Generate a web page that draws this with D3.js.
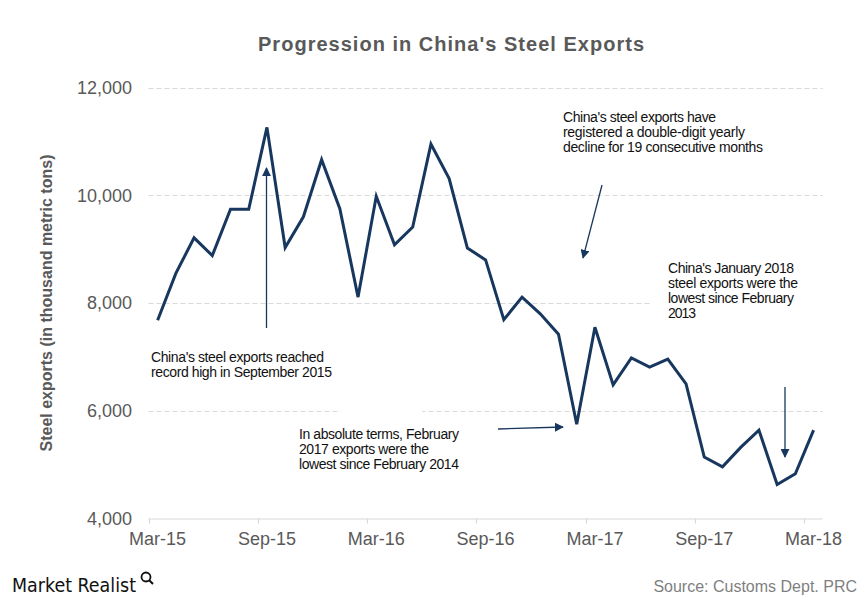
<!DOCTYPE html>
<html>
<head>
<meta charset="utf-8">
<script src="https://cdn.jsdelivr.net/npm/d3@7"></script>
<style>
  html, body { margin: 0; padding: 0; background: #fff; }
  svg { display: block; font-family: "Liberation Sans", Arial, sans-serif; }
</style>
</head>
<body>
<svg id="chart" width="868" height="601"></svg>
<script>
// ---- data ----
const months = ["Mar-15","Apr-15","May-15","Jun-15","Jul-15","Aug-15","Sep-15","Oct-15","Nov-15","Dec-15",
  "Jan-16","Feb-16","Mar-16","Apr-16","May-16","Jun-16","Jul-16","Aug-16","Sep-16","Oct-16","Nov-16","Dec-16",
  "Jan-17","Feb-17","Mar-17","Apr-17","May-17","Jun-17","Jul-17","Aug-17","Sep-17","Oct-17","Nov-17","Dec-17",
  "Jan-18","Feb-18","Mar-18"];
const exportsKt = [7680, 8550, 9210, 8880, 9740, 9740, 11260, 9030, 9600, 10660,
  9750, 8110, 9980, 9080, 9410, 10950, 10310, 9020, 8800, 7690, 8110, 7800,
  7420, 5750, 7550, 6480, 6980, 6810, 6960, 6500, 5140, 4960, 5320, 5640,
  4630, 4830, 5640];
const xTickLabels = ["Mar-15","Sep-15","Mar-16","Sep-16","Mar-17","Sep-17","Mar-18"];
const yTicks = [4000, 6000, 8000, 10000, 12000];

const titleText = "Progression in China's Steel Exports";
const yAxisTitle = "Steel exports (in thousand metric tons)";
const sourceText = "Source: Customs Dept. PRC";
const brandText = "Market Realist";

const noteRecord = ["China's steel exports reached", "record high in September 2015"];
const noteDecline = ["China's steel exports have", "registered a double-digit yearly", "decline for 19 consecutive months"];
const noteFeb17 = ["In absolute terms, February", "2017 exports were the", "lowest since February 2014"];
const noteJan18 = ["China's January 2018", "steel exports were the", "lowest since February", "2013"];

// ---- layout ----
const svg = d3.select("#chart");
const plot = { left: 148.5, right: 822.7, top: 87.5, bottom: 518.5 };

const x = d3.scaleBand().domain(months).range([plot.left, plot.right]).paddingInner(0).paddingOuter(0);
const y = d3.scaleLinear().domain([4000, 12000]).range([plot.bottom, plot.top]);
const cx = m => x(m) + x.bandwidth() / 2;

const textGray = "#595959";
const lineColor = "#17375e";

// gridlines
svg.append("g").selectAll("line").data(yTicks.filter(t => t > 4000)).join("line")
  .attr("x1", plot.left).attr("x2", plot.right)
  .attr("y1", d => Math.round(y(d)) + 0.5).attr("y2", d => Math.round(y(d)) + 0.5)
  .attr("stroke", "#d9d9d9").attr("stroke-width", 1).attr("stroke-dasharray", "5,3");

// white text-box backgrounds that hide parts of gridlines
svg.append("rect").attr("x", 341).attr("y", y(6000) - 4).attr("width", 81).attr("height", 8).attr("fill", "#fff");
svg.append("rect").attr("x", 650).attr("y", y(8000) - 4).attr("width", 180).attr("height", 8).attr("fill", "#fff");

// y tick labels
svg.append("g").selectAll("text").data(yTicks).join("text")
  .attr("x", 132).attr("y", d => y(d)).attr("dy", "0.35em")
  .attr("text-anchor", "end").attr("font-size", 18).attr("fill", textGray)
  .text(d => d3.format(",")(d));

// x axis
const xAxisG = svg.append("g");
xAxisG.append("line").attr("x1", plot.left).attr("x2", plot.right)
  .attr("y1", plot.bottom + 0.5).attr("y2", plot.bottom + 0.5)
  .attr("stroke", "#d9d9d9").attr("stroke-width", 1.2);
const tickMonths = months.filter((m, i) => i % 6 === 0);
xAxisG.selectAll("line.tick").data(tickMonths).join("line").attr("class", "tick")
  .attr("x1", d => Math.round(x(d)) + 0.5).attr("x2", d => Math.round(x(d)) + 0.5)
  .attr("y1", plot.bottom).attr("y2", plot.bottom + 5)
  .attr("stroke", "#d9d9d9").attr("stroke-width", 1.2);
xAxisG.selectAll("text").data(xTickLabels).join("text")
  .attr("x", d => cx(d)).attr("y", 545)
  .attr("text-anchor", "middle").attr("font-size", 18).attr("fill", textGray)
  .text(d => d);

// data line
const line = d3.line().x((d, i) => cx(months[i])).y(d => y(d));
svg.append("path").datum(exportsKt)
  .attr("d", line).attr("fill", "none")
  .attr("stroke", lineColor).attr("stroke-width", 3).attr("stroke-linejoin", "miter");

// title
svg.append("text").attr("x", 451).attr("y", 51).attr("text-anchor", "middle")
  .attr("font-size", 20).attr("font-weight", "bold").attr("fill", textGray)
  .attr("textLength", 386).attr("lengthAdjust", "spacing")
  .text(titleText);

// y axis title
svg.append("text").attr("transform", "translate(52,303) rotate(-90)")
  .attr("text-anchor", "middle").attr("font-size", 16).attr("font-weight", "bold").attr("fill", textGray)
  .text(yAxisTitle);

// arrows
const defs = svg.append("defs");
defs.append("marker").attr("id", "arr").attr("viewBox", "0 0 10 10")
  .attr("refX", 9).attr("refY", 5).attr("markerWidth", 6).attr("markerHeight", 6)
  .attr("markerUnits", "userSpaceOnUse").attr("orient", "auto")
  .append("path").attr("d", "M0,0 L10,5 L0,10 z").attr("fill", lineColor);
defs.select("marker").attr("markerWidth", 9).attr("markerHeight", 9);

const arrows = [
  { x1: 266.5, y1: 328, x2: 266.5, y2: 168 },
  { x1: 602, y1: 185, x2: 583, y2: 258 },
  { x1: 498, y1: 429, x2: 563, y2: 427 },
  { x1: 785, y1: 387, x2: 785, y2: 457 }
];
svg.append("g").selectAll("line").data(arrows).join("line")
  .attr("x1", d => d.x1).attr("y1", d => d.y1).attr("x2", d => d.x2).attr("y2", d => d.y2)
  .attr("stroke", lineColor).attr("stroke-width", 1.3).attr("marker-end", "url(#arr)");

// annotations
function note(lines, x0, y0, widths) {
  const t = svg.append("text").attr("font-size", 14).attr("fill", "#111");
  lines.forEach((s, i) => {
    const ts = t.append("tspan").attr("x", x0).attr("y", y0 + i * 15).text(s);
    if (widths && widths[i]) ts.attr("textLength", widths[i]).attr("lengthAdjust", "spacing");
  });
}
note(noteRecord, 151, 362, [173, 181]);
note(noteDecline, 563, 122, [153, 182, 200]);
note(noteFeb17, 299, 439, [160, 130, 160]);
note(noteJan18, 668, 273, [126, 130, 126, 28]);

// source
svg.append("text").attr("x", 857).attr("y", 592).attr("text-anchor", "end")
  .attr("font-size", 16).attr("fill", "#7f7f7f").text(sourceText);

// brand
svg.append("text").attr("x", 12).attr("y", 592)
  .attr("font-size", 20).attr("fill", "#111")
  .attr("font-family", "'DejaVu Sans Condensed', 'Liberation Sans Narrow', sans-serif")
  .attr("textLength", 124).attr("lengthAdjust", "spacingAndGlyphs")
  .text(brandText);
const mg = svg.append("g").attr("transform", "translate(146,577)");
mg.append("circle").attr("r", 4.5).attr("fill", "none").attr("stroke", "#111").attr("stroke-width", 1.8);
mg.append("line").attr("x1", 3.2).attr("y1", 3.2).attr("x2", 7).attr("y2", 7).attr("stroke", "#111").attr("stroke-width", 2);
</script>
</body>
</html>
